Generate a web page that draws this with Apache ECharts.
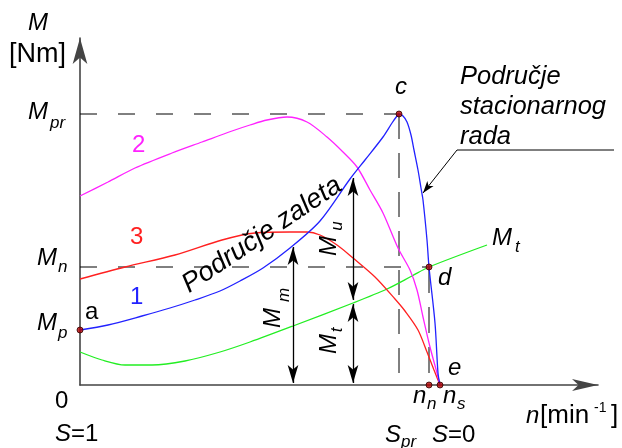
<!DOCTYPE html>
<html>
<head>
<meta charset="utf-8">
<script src="https://cdn.jsdelivr.net/npm/echarts@6/dist/echarts.min.js"></script>
<style>
  html, body { margin: 0; padding: 0; background: #fff; }
  #chart { width: 622px; height: 448px; }
</style>
</head>
<body>
<div id="chart"></div>
<script>
// Torque–speed characteristics of an induction motor (n on x, M on y, arbitrary units)

// characteristic 1 (blue)
const curve1 = [[0,55],[28,60],[62,69],[90,77],[115,85],[140,94],[160,104],[183,117],[210,137],
  [240,164],[270,206],[285,225],[303,248],[312,262],[317,269],[319,271],[323,269],[327,263],
  [331,250],[334,235],[338,215],[341,197],[343,185],[347,145],[349,118],[355,62],[358,12],[360,0]];
// characteristic 2 (magenta)
const curve2 = [[0,189],[28,203],[55,217],[92,232],[122,243],[152,254],[170,260],[187,265],
  [207,268],[227,263],[247,248],[263,233],[277,218],[290,195],[303,172],[318,137],[330,115],
  [337,95],[343,68],[350,38],[357,12],[360,0]];
// characteristic 3 (red)
const curve3 = [[0,106],[45,118],[95,130],[142,145],[175,152],[210,153],[227,153],[240,150],
  [257,140],[273,127],[295,108],[315,86],[325,74],[338,55],[347,33],[354,15],[360,0]];
// load torque M_t (green)
const loadTorque = [[0,33],[22,25],[45,20],[72,20],[105,24],[140,33],[170,43],[213,59],
  [273,82],[307,96],[332,109],[349,118],[407,140]];

// characteristic torques and speeds
const Mpr = 271, Mn = 118, Mp = 55;
const nPr = 319, nN = 349, nS = 360;
const pointsA_C_D_E = [[0, Mp], [nPr, Mpr], [nN, Mn], [nN, 0], [nS, 0]];

// double arrows: [n, upper tip, lower tip]
const arrowMm = [213, 138, 2];
const arrowMu = [273, 207, 85];
const arrowMt = [273, 81, 2];

// leader for the "stationary operation" note: [end of shelf, knee, tip]
const leader = [[534, 235], [377, 235], [343, 192]];

const ARROW = [8, 18];
const dbl = a => [{ coord: [a[0], a[1]] }, { coord: [a[0], a[2]] }];

const chart = echarts.init(document.getElementById('chart'), null, { renderer: 'canvas' });

const curveLine = (name, data, color) => ({
  name, type: 'line', data, symbol: 'none', smooth: 0.3, silent: true,
  lineStyle: { color, width: 1.3 }, z: 3
});
const guide = (data, dash) => ({
  type: 'line', data, symbol: 'none', silent: true,
  lineStyle: { color: '#000', width: 1, type: dash }, z: 2
});

chart.setOption({
  animation: false,
  grid: { left: 80, top: 38, width: 518, height: 347 },
  xAxis: {
    type: 'value', min: 0, max: 518,
    axisLine: { show: true, symbol: ['none', 'arrow'], symbolSize: [9, 26],
      lineStyle: { color: '#444', width: 1.6 } },
    axisTick: { show: false }, axisLabel: { show: false }, splitLine: { show: false }
  },
  yAxis: {
    type: 'value', min: 0, max: 347,
    axisLine: { show: true, symbol: ['none', 'arrow'], symbolSize: [11, 26],
      lineStyle: { color: '#444', width: 1.6 } },
    axisTick: { show: false }, axisLabel: { show: false }, splitLine: { show: false }
  },
  series: [
    guide([[0, Mpr], [nPr, Mpr]], [17, 21]),
    guide([[0, Mn], [nN, Mn]], [17, 21]),
    guide([[nPr, Mpr], [nPr, 0]], [25, 14]),
    guide([[nN, Mn], [nN, 0]], [26, 14]),
    curveLine('Mt', loadTorque, '#22ee22'),
    curveLine('3', curve3, '#ff2020'),
    curveLine('2', curve2, '#ff22ff'),
    curveLine('1', curve1, '#2222ff'),
    {
      type: 'line', data: [], symbol: 'none', silent: true, z: 4,
      markLine: {
        silent: true, symbol: ['none', 'arrow'], symbolSize: [6, 12],
        label: { show: false }, lineStyle: { color: '#000', width: 1, type: 'solid' },
        data: [[{ coord: leader[1] }, { coord: leader[2] }]]
      }
    },
    {
      type: 'scatter', data: pointsA_C_D_E, symbolSize: 6, silent: true, z: 6,
      itemStyle: { color: '#b00000', borderColor: '#300', borderWidth: 1 },
      markLine: {
        silent: true, symbol: ['arrow', 'arrow'], symbolSize: ARROW,
        label: { show: false }, lineStyle: { color: '#000', width: 1.3, type: 'solid' },
        data: [dbl(arrowMm), dbl(arrowMu), dbl(arrowMt)]
      }
    }
  ]
});

// text annotations
const F = '"Liberation Sans", Arial, sans-serif';
function t(str, x, y, size, opt) {
  opt = opt || {};
  return {
    type: 'text', x, y, rotation: opt.rot || 0, silent: true, z: 10,
    style: {
      text: str, fill: opt.color || '#000',
      font: (opt.upright ? '' : 'italic ') + size + 'px ' + F,
      align: opt.align || 'left', verticalAlign: 'middle', lineHeight: opt.lh
    }
  };
}
const R = Math.PI / 2;
const shelfA = chart.convertToPixel({ gridIndex: 0 }, leader[0]);
const shelfB = chart.convertToPixel({ gridIndex: 0 }, leader[1]);
chart.setOption({
  graphic: [
    { type: 'line', silent: true, z: 4,
      shape: { x1: shelfA[0], y1: shelfA[1], x2: shelfB[0], y2: shelfB[1] },
      style: { stroke: '#000', lineWidth: 1 } },
    t('M', 28, 23, 24),
    t('[Nm]', 9, 55, 27, { upright: true }),
    t('M', 28, 112, 24), t('pr', 50, 123, 17),
    t('M', 37, 258, 24), t('n', 58, 267, 17),
    t('M', 37, 323, 24), t('p', 58, 333, 17),
    t('a', 85, 312, 24, { upright: true }),
    t('1', 130, 297, 24, { upright: true, color: '#2222ff' }),
    t('2', 132, 145, 24, { upright: true, color: '#ff22ff' }),
    t('3', 130, 237, 24, { upright: true, color: '#ff2020' }),
    t('0', 55, 401, 24, { upright: true }),
    t('S', 55, 434, 24), t('=1', 71, 434, 24, { upright: true }),
    t('c', 395, 87, 24),
    t('d', 438, 278, 24),
    t('e', 448, 368, 24),
    t('n', 413, 396, 24), t('n', 427, 404, 17),
    t('n', 443, 396, 24), t('s', 457, 404, 17),
    t('n', 526, 416, 24), t('[min', 540, 416, 26, { upright: true }),
    t('-1', 594, 408, 14, { upright: true }), t(']', 611, 416, 26, { upright: true }),
    t('S', 385, 435, 24), t('pr', 401, 442, 17),
    t('S', 432, 435, 24), t('=0', 448, 435, 24, { upright: true }),
    t('M', 492, 238, 24), t('t', 515, 247, 17),
    t('Područje\nstacionarnog\nrada', 460, 107, 25.5, { lh: 30 }),
    t('Područje zaleta', 262, 235, 27, { align: 'center', rot: 34 * Math.PI / 180 }),
    t('M', 273, 318, 24, { align: 'center', rot: R }), t('m', 284, 295, 17, { align: 'center', rot: R }),
    t('M', 329, 246, 24, { align: 'center', rot: R }), t('u', 337, 226, 17, { align: 'center', rot: R }),
    t('M', 329, 344, 24, { align: 'center', rot: R }), t('t', 337, 330, 17, { align: 'center', rot: R })
  ]
});
</script>
</body>
</html>
